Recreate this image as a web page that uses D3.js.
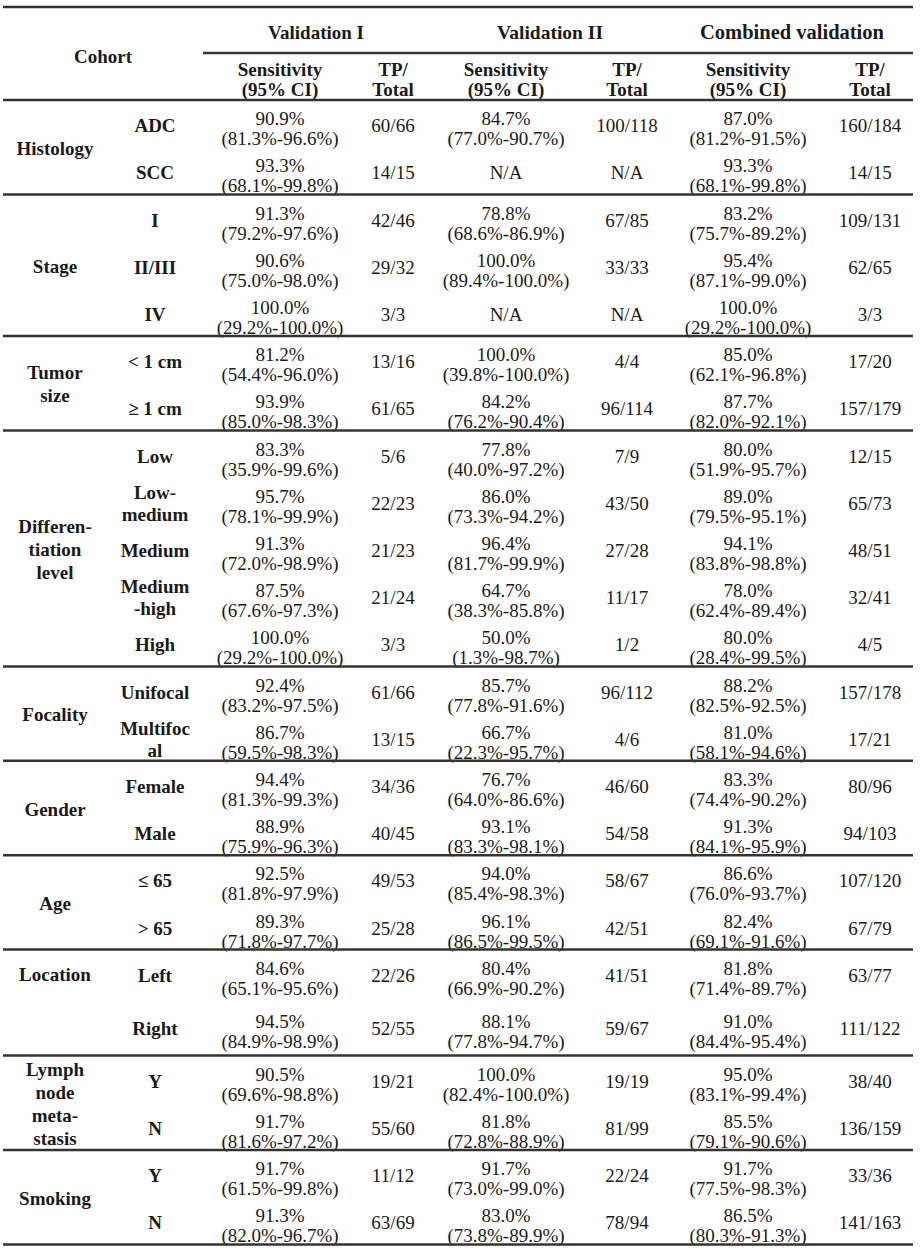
<!DOCTYPE html>
<html>
<head>
<meta charset="utf-8">
<script src="https://cdn.jsdelivr.net/npm/d3@7"></script>
<style>
  body { margin: 0; background: #fff; }
  text { font-family: "Liberation Serif", "Times New Roman", serif; fill: #1a1a1a; }
  .bold { font-weight: bold; }
</style>
</head>
<body>
<div id="table"></div>
<script>
// cohort groups, each label split into its printed lines
const groupLabels = [['Histology'], ['Stage'], ['Tumor', 'size'], ['Differen-', 'tiation', 'level'],
  ['Focality'], ['Gender'], ['Age'], ['Location'], ['Lymph', 'node', 'meta-', 'stasis'], ['Smoking']];
const groupSizes = [2, 3, 2, 5, 2, 2, 2, 2, 2, 2];
const subgroups = [['ADC'], ['SCC'], ['I'], ['II/III'], ['IV'], ['< 1 cm'], ['≥ 1 cm'],
  ['Low'], ['Low-', 'medium'], ['Medium'], ['Medium', '-high'], ['High'],
  ['Unifocal'], ['Multifoc', 'al'], ['Female'], ['Male'], ['≤ 65'], ['> 65'],
  ['Left'], ['Right'], ['Y'], ['N'], ['Y'], ['N']];

const validations = ['Validation I', 'Validation II', 'Combined validation'];

// Validation I
const v1Sens = [90.9, 93.3, 91.3, 90.6, 100.0, 81.2, 93.9, 83.3, 95.7, 91.3, 87.5, 100.0,
  92.4, 86.7, 94.4, 88.9, 92.5, 89.3, 84.6, 94.5, 90.5, 91.7, 91.7, 91.3];
const v1CI = [[81.3, 96.6], [68.1, 99.8], [79.2, 97.6], [75.0, 98.0], [29.2, 100.0], [54.4, 96.0],
  [85.0, 98.3], [35.9, 99.6], [78.1, 99.9], [72.0, 98.9], [67.6, 97.3], [29.2, 100.0],
  [83.2, 97.5], [59.5, 98.3], [81.3, 99.3], [75.9, 96.3], [81.8, 97.9], [71.8, 97.7],
  [65.1, 95.6], [84.9, 98.9], [69.6, 98.8], [81.6, 97.2], [61.5, 99.8], [82.0, 96.7]];
const v1TP = [[60, 66], [14, 15], [42, 46], [29, 32], [3, 3], [13, 16], [61, 65], [5, 6], [22, 23],
  [21, 23], [21, 24], [3, 3], [61, 66], [13, 15], [34, 36], [40, 45], [49, 53], [25, 28],
  [22, 26], [52, 55], [19, 21], [55, 60], [11, 12], [63, 69]];

// Validation II (null = N/A)
const v2Sens = [84.7, null, 78.8, 100.0, null, 100.0, 84.2, 77.8, 86.0, 96.4, 64.7, 50.0,
  85.7, 66.7, 76.7, 93.1, 94.0, 96.1, 80.4, 88.1, 100.0, 81.8, 91.7, 83.0];
const v2CI = [[77.0, 90.7], null, [68.6, 86.9], [89.4, 100.0], null, [39.8, 100.0],
  [76.2, 90.4], [40.0, 97.2], [73.3, 94.2], [81.7, 99.9], [38.3, 85.8], [1.3, 98.7],
  [77.8, 91.6], [22.3, 95.7], [64.0, 86.6], [83.3, 98.1], [85.4, 98.3], [86.5, 99.5],
  [66.9, 90.2], [77.8, 94.7], [82.4, 100.0], [72.8, 88.9], [73.0, 99.0], [73.8, 89.9]];
const v2TP = [[100, 118], null, [67, 85], [33, 33], null, [4, 4], [96, 114], [7, 9], [43, 50],
  [27, 28], [11, 17], [1, 2], [96, 112], [4, 6], [46, 60], [54, 58], [58, 67], [42, 51],
  [41, 51], [59, 67], [19, 19], [81, 99], [22, 24], [78, 94]];

// Combined validation
const cSens = [87.0, 93.3, 83.2, 95.4, 100.0, 85.0, 87.7, 80.0, 89.0, 94.1, 78.0, 80.0,
  88.2, 81.0, 83.3, 91.3, 86.6, 82.4, 81.8, 91.0, 95.0, 85.5, 91.7, 86.5];
const cCI = [[81.2, 91.5], [68.1, 99.8], [75.7, 89.2], [87.1, 99.0], [29.2, 100.0], [62.1, 96.8],
  [82.0, 92.1], [51.9, 95.7], [79.5, 95.1], [83.8, 98.8], [62.4, 89.4], [28.4, 99.5],
  [82.5, 92.5], [58.1, 94.6], [74.4, 90.2], [84.1, 95.9], [76.0, 93.7], [69.1, 91.6],
  [71.4, 89.7], [84.4, 95.4], [83.1, 99.4], [79.1, 90.6], [77.5, 98.3], [80.3, 91.3]];
const cTP = [[160, 184], [14, 15], [109, 131], [62, 65], [3, 3], [17, 20], [157, 179], [12, 15],
  [65, 73], [48, 51], [32, 41], [4, 5], [157, 178], [17, 21], [80, 96], [94, 103], [107, 120],
  [67, 79], [63, 77], [111, 122], [38, 40], [136, 159], [33, 36], [141, 163]];

const sensCols = [v1Sens, v2Sens, cSens];
const ciCols = [v1CI, v2CI, cCI];
const tpCols = [v1TP, v2TP, cTP];

// page layout
const width = 920;
const height = 1250;
const left = 3, right = 913;
const headTop = 7, subLine = 53, headBottom = 100;
const fontSize = 19;
const lineGap = 20;
const boldGap = 23;
const ruleColor = '#333';

const fmt = d3.format('.1f');
const pct = v => fmt(v) + '%';

// column centres
const colX = d3.scaleOrdinal()
  .domain(['group', 'sub', 's0', 't0', 's1', 't1', 's2', 't2'])
  .range([55, 155, 280, 393, 506, 627, 748, 870]);
const headX = d3.scaleOrdinal().domain(validations).range([316, 550, 792]);
const headSize = d3.scaleOrdinal().domain(validations).range([19, 19.5, 20.5]);

const svg = d3.select('#table')
  .append('svg')
  .attr('width', width)
  .attr('height', height);

svg.append('rect').attr('width', width).attr('height', height).attr('fill', '#fff');

// row heights: Location rows are drawn taller, the rest share one height
const groupOfRow = groupSizes.flatMap((n, gi) => d3.range(n).map(() => gi));
const rowHeights = groupOfRow.map((gi, ri) => {
  if (groupLabels[gi][0] === 'Location') {
    return groupOfRow.indexOf(gi) === ri ? 47 : 59;
  }
  return 47.2;
});
const rowBottoms = Array.from(d3.cumsum(rowHeights), d => headBottom + d);
const rowTops = rowBottoms.map((b, i) => b - rowHeights[i]);
const rowMid = i => (rowTops[i] + rowBottoms[i]) / 2;

// multi-line text helper, lines centred on cy
function multiText(g, lines, x, cy, gap, cls, size) {
  const t = g.append('text')
    .attr('class', cls || null)
    .attr('text-anchor', 'middle')
    .attr('font-size', size || fontSize);
  lines.forEach((line, k) => {
    t.append('tspan')
      .attr('x', x)
      .attr('y', cy + (k - (lines.length - 1) / 2) * gap)
      .attr('dominant-baseline', 'central')
      .text(line);
  });
  return t;
}

// header
const head = svg.append('g').attr('class', 'header');
multiText(head, ['Cohort'], 103, 56, boldGap, 'bold');
validations.forEach((v, vi) => {
  multiText(head, [v], headX(v), 32, boldGap, 'bold', headSize(v));
  multiText(head, ['Sensitivity', '(95% CI)'], colX('s' + vi), 79, lineGap, 'bold');
  multiText(head, ['TP/', 'Total'], colX('t' + vi), 79, lineGap, 'bold');
});

// group labels
const body = svg.append('g').attr('class', 'body');
let start = 0;
groupSizes.forEach((n, gi) => {
  const first = start, last = start + n - 1;
  let cy = (rowTops[first] + rowBottoms[last]) / 2 + 1;
  if (groupLabels[gi][0] === 'Location') cy = rowMid(first) + 1;
  multiText(body, groupLabels[gi], colX('group'), cy, boldGap, 'bold');
  start += n;
});

// rows
subgroups.forEach((lines, ri) => {
  const cy = rowMid(ri) + 2;
  multiText(body, lines, colX('sub'), cy, boldGap - 1, 'bold');
  validations.forEach((v, vi) => {
    const s = sensCols[vi][ri];
    const ci = ciCols[vi][ri];
    const tp = tpCols[vi][ri];
    if (s === null) {
      multiText(body, ['N/A'], colX('s' + vi), cy, lineGap);
      multiText(body, ['N/A'], colX('t' + vi), cy, lineGap);
    } else {
      multiText(body, [pct(s), `(${pct(ci[0])}-${pct(ci[1])})`], colX('s' + vi), cy + 3, lineGap);
      multiText(body, [`${tp[0]}/${tp[1]}`], colX('t' + vi), cy, lineGap);
    }
  });
});

// horizontal rules
const groupEnds = Array.from(d3.cumsum(groupSizes), d => rowBottoms[d - 1]);
const rules = [
  { y: headTop, x1: left },
  { y: subLine, x1: 203 },
  { y: headBottom, x1: left },
  ...groupEnds.map(y => ({ y, x1: left }))
];
svg.append('g').attr('class', 'rules')
  .selectAll('line')
  .data(rules)
  .enter()
  .append('line')
  .attr('x1', d => d.x1)
  .attr('x2', right)
  .attr('y1', d => d.y)
  .attr('y2', d => d.y)
  .attr('stroke', ruleColor)
  .attr('stroke-width', 2.5);
</script>
</body>
</html>
